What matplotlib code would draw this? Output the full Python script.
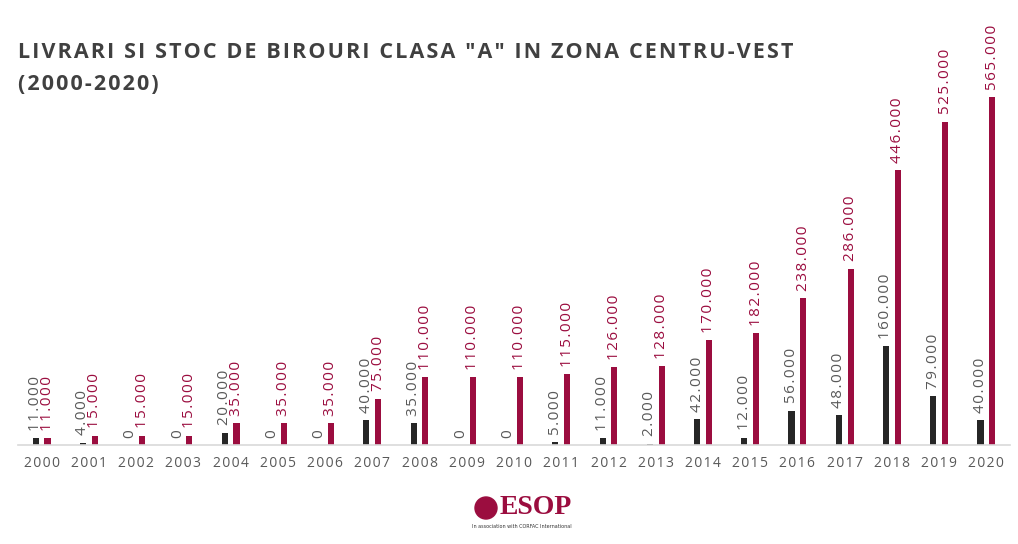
import matplotlib
matplotlib.use("Agg")
import matplotlib.pyplot as plt
from matplotlib.patches import Ellipse
import numpy as np

years = [str(y) for y in range(2000, 2021)]
livrari = [11000, 4000, 0, 0, 20000, 0, 0, 40000, 35000, 0, 0, 5000, 11000, 2000, 42000, 12000, 56000, 48000, 160000, 79000, 40000]
stoc = [11000, 15000, 15000, 15000, 35000, 35000, 35000, 75000, 110000, 110000, 110000, 115000, 126000, 128000, 170000, 182000, 238000, 286000, 446000, 525000, 565000]

DARK = "#262626"
RED = "#9b0d3f"
GRAY = "#595959"
HS = "\u200a"

def spaced(s):
    return HS.join(s)

fig = plt.figure(figsize=(10.18, 5.44), dpi=100)
ax = fig.add_axes([18/1018, 1-445/544, 992/1018, (445-97)/544])
x = np.arange(len(years))
w = 0.13
ax.bar(x - 0.125, livrari, w, color=DARK)
ax.bar(x + 0.125, stoc, w, color=RED)
ax.set_xlim(-0.5, len(years) - 0.5)
ax.set_ylim(0, 565000)
fmt = lambda v: f"{v:,}".replace(",", ".")
for i in range(len(years)):
    ax.text(x[i] - 0.125, livrari[i] + 12000, spaced(fmt(livrari[i])), rotation=90, ha="center", va="bottom",
            fontsize=11, color=GRAY, family="Open Sans", clip_on=False)
    ax.text(x[i] + 0.125, stoc[i] + 12000, spaced(fmt(stoc[i])), rotation=90, ha="center", va="bottom",
            fontsize=11, color=RED, family="Open Sans", clip_on=False)
ax.set_xticks(x)
ax.set_xticklabels([spaced(y) for y in years], fontsize=10, color=GRAY, family="Open Sans")
ax.tick_params(axis="x", length=0, pad=8)
ax.set_yticks([])
for s in ["top", "right", "left"]:
    ax.spines[s].set_visible(False)
ax.spines["bottom"].set_color("#d9d9d9")
ax.spines["bottom"].set_linewidth(1.2)

fig.text(18/1018, 1-52/544, spaced('LIVRARI SI STOC DE BIROURI CLASA "A" IN ZONA CENTRU-VEST'),
         fontsize=15.5, fontweight="bold", color="#404040", family="Open Sans", va="center")
fig.text(18/1018, 1-84/544, spaced("(2000-2020)"), fontsize=15.5, fontweight="bold", color="#404040",
         family="Open Sans", va="center")

# logo
fig.patches.append(Ellipse((486/1018, 1-508/544), 22/1018, 22/544, transform=fig.transFigure, color=RED))
fig.text(500/1018, 1-508/544, "ESOP", fontsize=20, fontweight="bold", color=RED, family="Liberation Serif", va="center")
fig.text(472/1018, 1-526/544, "In association with CORFAC International", fontsize=3.5, color="#333333", va="center")

fig.savefig("out.png", dpi=100)
